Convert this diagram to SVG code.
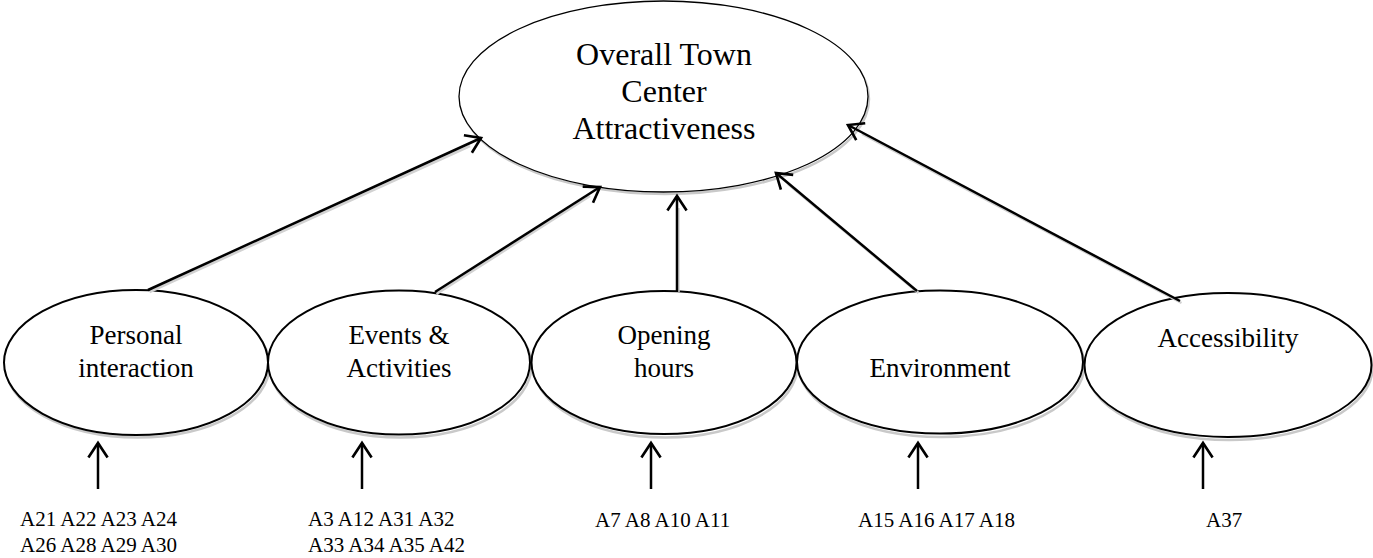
<svg xmlns="http://www.w3.org/2000/svg" width="1373" height="558" viewBox="0 0 1373 558">
<style>
  .node{fill:#fff;stroke:#000;stroke-width:2}
  .top{fill:#fff;stroke:#000;stroke-width:1.3}
  .sh{fill:none;stroke:#c9c9c9;stroke-width:2.5}
  .big{font-family:"Liberation Serif","Times New Roman",serif;font-size:32px;fill:#000;text-anchor:middle}
  .lbl{font-family:"Liberation Serif","Times New Roman",serif;font-size:27px;fill:#000;text-anchor:middle}
  .ind{font-family:"Liberation Serif","Times New Roman",serif;font-size:21px;fill:#000}
  .con{fill:none;stroke:#000;stroke-width:2.5;marker-end:url(#arr)}
  .csh{fill:none;stroke:#d2d2d2;stroke-width:2.5}
</style>
<defs>
  <marker id="arr" markerUnits="userSpaceOnUse" markerWidth="24" markerHeight="24" viewBox="-14 -10 16 20" refX="0" refY="0" orient="auto">
    <path d="M-12,-8 L0,0 L-12,8" fill="none" stroke="#000" stroke-width="2.2"/>
  </marker>
</defs>
<rect width="1373" height="558" fill="#fff"/>

<g id="overall">
  <ellipse class="sh" cx="665" cy="99" rx="204" ry="95"/>
  <ellipse class="top" cx="663.5" cy="96.5" rx="204.5" ry="95.5"/>
  <text class="big" x="664" y="65">Overall Town</text>
  <text class="big" x="664" y="102">Center</text>
  <text class="big" x="664" y="139">Attractiveness</text>
</g>

<g id="personal">
  <ellipse class="sh" cx="137.5" cy="365.5" rx="132" ry="72"/>
  <ellipse class="node" cx="136" cy="362.5" rx="132" ry="72.5"/>
  <text class="lbl" x="136" y="344">Personal</text>
  <text class="lbl" x="136" y="377">interaction</text>
</g>

<g id="events">
  <ellipse class="sh" cx="400.5" cy="365.5" rx="131" ry="72"/>
  <ellipse class="node" cx="399" cy="362.5" rx="131" ry="72"/>
  <text class="lbl" x="399" y="344">Events &amp;</text>
  <text class="lbl" x="399" y="377">Activities</text>
</g>

<g id="opening">
  <ellipse class="sh" cx="665.5" cy="365.5" rx="132" ry="72"/>
  <ellipse class="node" cx="664" cy="362.5" rx="132.5" ry="71.5"/>
  <text class="lbl" x="664" y="344">Opening</text>
  <text class="lbl" x="664" y="377">hours</text>
</g>

<g id="environment">
  <ellipse class="sh" cx="941.5" cy="365" rx="143" ry="72"/>
  <ellipse class="node" cx="940" cy="362" rx="143" ry="71.5"/>
  <text class="lbl" x="940" y="377">Environment</text>
</g>

<g id="accessibility">
  <ellipse class="sh" cx="1229.5" cy="368" rx="143" ry="72"/>
  <ellipse class="node" cx="1228" cy="365" rx="143.5" ry="72"/>
  <text class="lbl" x="1228" y="347">Accessibility</text>
</g>

<g id="indicators">
  <text class="ind" x="20" y="526">A21 A22 A23 A24</text>
  <text class="ind" x="20" y="552">A26 A28 A29 A30</text>
  <text class="ind" x="308" y="526">A3 A12 A31 A32</text>
  <text class="ind" x="308" y="552">A33 A34 A35 A42</text>
  <text class="ind" x="595" y="527">A7 A8 A10 A11</text>
  <text class="ind" x="858" y="527">A15 A16 A17 A18</text>
  <text class="ind" x="1206" y="527">A37</text>
</g>

<g id="connectors">
  <line class="csh" x1="149.5" y1="292" x2="470" y2="146"/>
  <line class="csh" x1="436.5" y1="294" x2="590" y2="196"/>
  <line class="csh" x1="678.5" y1="292" x2="678.5" y2="208"/>
  <line class="csh" x1="918.5" y1="293" x2="788" y2="184"/>
  <line class="csh" x1="1181.5" y1="303" x2="862" y2="134"/>
  <line class="con" x1="148" y1="290" x2="481" y2="138"/>
  <line class="con" x1="435" y1="292" x2="600" y2="187"/>
  <line class="con" x1="677" y1="292" x2="677" y2="196"/>
  <line class="con" x1="917" y1="291" x2="776" y2="173"/>
  <line class="con" x1="1180" y1="301" x2="848" y2="125"/>

  <line class="con" x1="98" y1="489" x2="98" y2="443"/>
  <line class="con" x1="362" y1="489" x2="362" y2="443"/>
  <line class="con" x1="651" y1="489" x2="651" y2="443"/>
  <line class="con" x1="918" y1="489" x2="918" y2="443"/>
  <line class="con" x1="1203" y1="489" x2="1203" y2="443"/>
</g>
</svg>
